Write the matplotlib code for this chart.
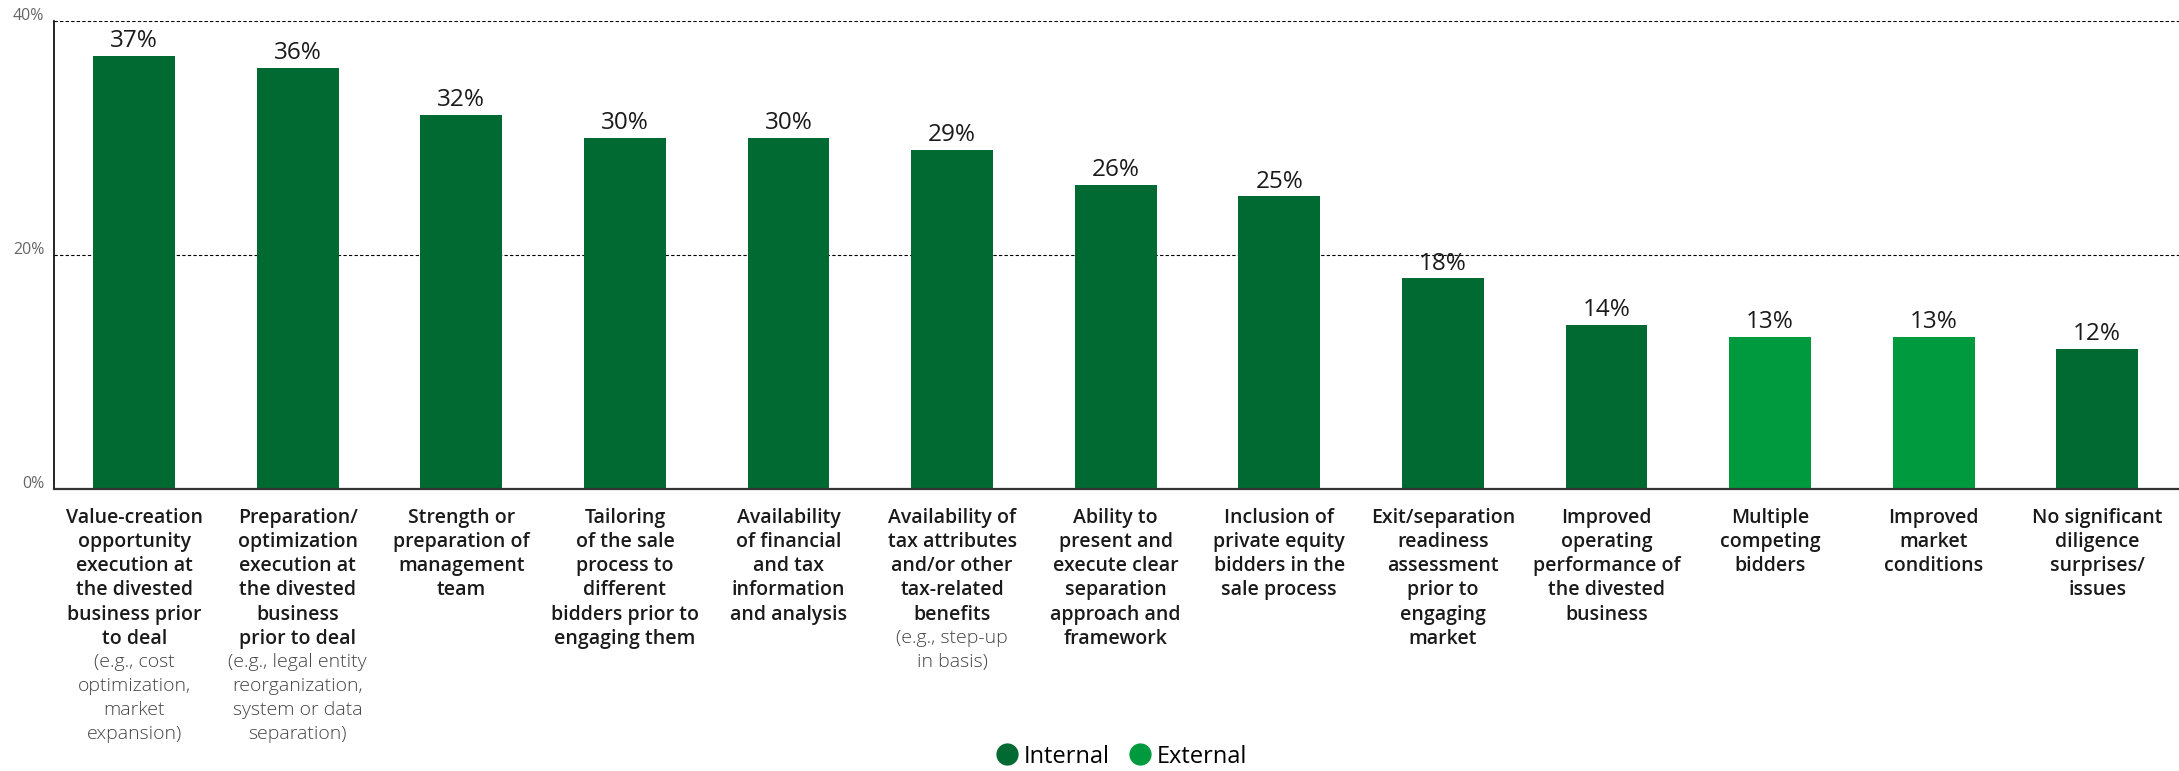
import matplotlib.pyplot as plt
from matplotlib.lines import Line2D

plt.rcParams['font.family'] = ['Open Sans', 'DejaVu Sans']

labels_main = [
    "Value-creation\nopportunity\nexecution at\nthe divested\nbusiness prior\nto deal",
    "Preparation/\noptimization\nexecution at\nthe divested\nbusiness\nprior to deal",
    "Strength or\npreparation of\nmanagement\nteam",
    "Tailoring\nof the sale\nprocess to\ndifferent\nbidders prior to\nengaging them",
    "Availability\nof financial\nand tax\ninformation\nand analysis",
    "Availability of\ntax attributes\nand/or other\ntax-related\nbenefits",
    "Ability to\npresent and\nexecute clear\nseparation\napproach and\nframework",
    "Inclusion of\nprivate equity\nbidders in the\nsale process",
    "Exit/separation\nreadiness\nassessment\nprior to\nengaging\nmarket",
    "Improved\noperating\nperformance of\nthe divested\nbusiness",
    "Multiple\ncompeting\nbidders",
    "Improved\nmarket\nconditions",
    "No significant\ndiligence\nsurprises/\nissues",
]
labels_sub = [
    "(e.g., cost\noptimization,\nmarket\nexpansion)",
    "(e.g., legal entity\nreorganization,\nsystem or data\nseparation)",
    "", "", "",
    "(e.g., step-up\nin basis)",
    "", "", "", "", "", "", "",
]
values = [37, 36, 32, 30, 30, 29, 26, 25, 18, 14, 13, 13, 12]
groups = ["Internal"] * 10 + ["External", "External", "Internal"]

colors = {"Internal": "#006A32", "External": "#009A3E"}

fig = plt.figure(figsize=(21.79, 7.71), dpi=100)
ax = fig.add_axes([0.0248, 0.3658, 0.9752, 0.607])

x = list(range(len(values)))
ax.bar(x, values, width=0.5, color=[colors[g] for g in groups], zorder=3)

ax.set_xlim(-0.49, 12.5)
ax.set_ylim(0, 40)

for v in (20, 40):
    ax.axhline(v, color='black', lw=0.8, ls=(0, (3, 2)), zorder=1)

for s in ('top', 'right'):
    ax.spines[s].set_visible(False)
ax.spines['left'].set_color('black')
ax.spines['left'].set_linewidth(1.2)
ax.spines['bottom'].set_color('#333333')
ax.spines['bottom'].set_linewidth(1.6)
ax.spines['bottom'].set_zorder(4)

ax.set_xticks([])
ax.set_yticks([])
for v in (0, 20, 40):
    ax.annotate(f"{v}%", xy=(0, v), xycoords=('axes fraction', 'data'),
                xytext=(-7, 3.5), textcoords='offset points',
                ha='right', va='center', fontsize=11.5, color='#666666')

# value labels
for i, v in enumerate(values):
    ax.annotate(f"{v}%", xy=(i, v), xytext=(0, 2), textcoords='offset points',
                ha='center', va='bottom', fontsize=17.5, color='#1a1a1a')

# category labels, line by line
line_h = 17.3  # points
for i in x:
    main = labels_main[i].split("\n")
    sub = labels_sub[i].split("\n") if labels_sub[i] else []
    for k, line in enumerate(main):
        ax.annotate(line, xy=(i, 0), xycoords=('data', 'axes fraction'),
                    xytext=(0, -14 - k * line_h), textcoords='offset points',
                    ha='center', va='top', fontsize=14, fontweight='semibold',
                    color='#1a1a1a')
    for k, line in enumerate(sub):
        ax.annotate(line, xy=(i, 0), xycoords=('data', 'axes fraction'),
                    xytext=(0, -14 - (len(main) + k) * line_h), textcoords='offset points',
                    ha='center', va='top', fontsize=14, fontweight='light',
                    color='#444444')

handles = [Line2D([], [], marker='o', ls='', markersize=15,
                  markerfacecolor=colors[g], markeredgecolor=colors[g], label=g)
           for g in ("Internal", "External")]
fig.legend(handles=handles, loc='center', bbox_to_anchor=(0.5145, 0.0185), ncol=2,
           frameon=False, fontsize=17, handletextpad=0.2, columnspacing=0.8,
           borderpad=0, handlelength=1.0)

fig.savefig('out.png', dpi=100)
